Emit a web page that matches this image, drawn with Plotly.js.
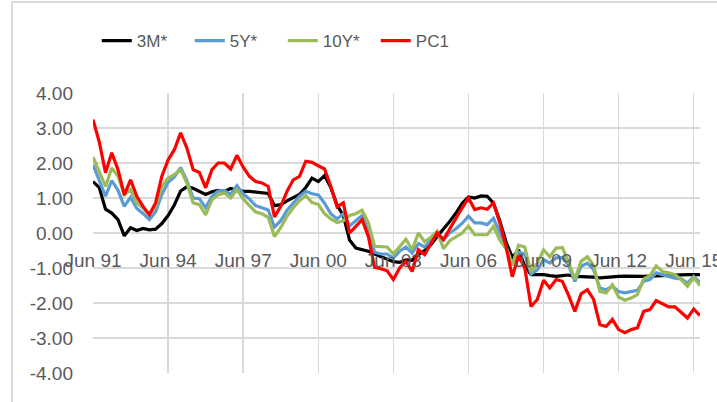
<!DOCTYPE html>
<html><head><meta charset="utf-8">
<script src="https://cdn.plot.ly/plotly-3.0.1.min.js"></script>
<style>
html,body{margin:0;padding:0;background:#fff;overflow:hidden}
#chart{width:717px;height:402px;position:absolute;left:0;top:0}
#frame{position:absolute;left:11px;top:1px;width:720px;height:420px;border-left:2px solid #d9d9d9;border-top:2px solid #d9d9d9;pointer-events:none}
</style></head><body>
<div id="chart"></div><div id="frame"></div>
<script>
const categories = [
"Jun 91","Sep 91","Dec 91",
"Mar 92","Jun 92","Sep 92","Dec 92","Mar 93","Jun 93","Sep 93","Dec 93",
"Mar 94","Jun 94","Sep 94","Dec 94","Mar 95","Jun 95","Sep 95","Dec 95",
"Mar 96","Jun 96","Sep 96","Dec 96","Mar 97","Jun 97","Sep 97","Dec 97",
"Mar 98","Jun 98","Sep 98","Dec 98","Mar 99","Jun 99","Sep 99","Dec 99",
"Mar 00","Jun 00","Sep 00","Dec 00","Mar 01","Jun 01","Sep 01","Dec 01",
"Mar 02","Jun 02","Sep 02","Dec 02","Mar 03","Jun 03","Sep 03","Dec 03",
"Mar 04","Jun 04","Sep 04","Dec 04","Mar 05","Jun 05","Sep 05","Dec 05",
"Mar 06","Jun 06","Sep 06","Dec 06","Mar 07","Jun 07","Sep 07","Dec 07",
"Mar 08","Jun 08","Sep 08","Dec 08","Mar 09","Jun 09","Sep 09","Dec 09",
"Mar 10","Jun 10","Sep 10","Dec 10","Mar 11","Jun 11","Sep 11","Dec 11",
"Mar 12","Jun 12","Sep 12","Dec 12","Mar 13","Jun 13","Sep 13","Dec 13",
"Mar 14","Jun 14","Sep 14","Dec 14","Mar 15","Jun 15","Sep 15"];

const tickLabels = ["Jun 91","Jun 94","Jun 97","Jun 00","Jun 03","Jun 06","Jun 09","Jun 12","Jun 15"];
const yTickVals = [-4, -3, -2, -1, 0, 1, 2, 3, 4];
const yTickText = ["-4.00","-3.00","-2.00","-1.00","0.00","1.00","2.00","3.00","4.00"];

const seriesNames = ["3M*","5Y*","10Y*","PC1"];

const m3 = [1.47,1.30,0.68,0.57,0.38,-0.08,0.15,0.07,0.13,0.09,
0.11,0.27,0.50,0.80,1.20,1.32,1.28,1.18,1.10,1.18,
1.22,1.19,1.27,1.22,1.19,1.19,1.17,1.14,1.13,0.78,
0.81,0.92,1.00,1.10,1.30,1.57,1.47,1.64,1.30,0.80,
0.50,-0.20,-0.43,-0.48,-0.52,-0.60,-0.67,-0.75,-0.82,-0.84,
-0.77,-0.78,-0.62,-0.50,-0.33,-0.10,0.10,0.33,0.57,0.85,
1.03,1.00,1.06,1.05,0.85,0.35,-0.25,-0.70,-0.48,-0.95,
-1.19,-1.19,-1.19,-1.22,-1.24,-1.22,-1.20,-1.24,-1.24,-1.25,
-1.26,-1.28,-1.26,-1.24,-1.24,-1.23,-1.24,-1.25,-1.24,-1.23,
-1.22,-1.21,-1.20,-1.20,-1.19,-1.19,-1.19,-1.19];

const y5 = [1.95,1.50,1.05,1.50,1.22,0.76,1.02,0.70,0.56,0.38,
0.60,1.10,1.45,1.60,1.87,1.50,1.00,0.98,0.72,1.05,
1.20,1.22,1.10,1.35,1.12,0.97,0.78,0.72,0.66,0.17,
0.35,0.65,0.85,1.05,1.19,1.12,1.09,0.85,0.55,0.40,
0.55,0.20,0.35,0.50,0.05,-0.55,-0.60,-0.60,-0.72,-0.52,
-0.40,-0.57,-0.30,-0.40,-0.20,0.02,-0.20,0.00,0.12,0.28,
0.48,0.29,0.29,0.24,0.42,0.02,-0.38,-0.88,-0.55,-0.60,
-1.17,-1.05,-0.76,-0.86,-0.71,-0.70,-0.92,-1.38,-0.95,-0.86,
-1.05,-1.57,-1.62,-1.52,-1.67,-1.71,-1.67,-1.64,-1.38,-1.33,
-1.14,-1.19,-1.26,-1.29,-1.31,-1.43,-1.24,-1.41];

const y10 = [2.17,1.75,1.33,1.86,1.62,1.09,1.24,0.86,0.71,0.52,
0.76,1.33,1.57,1.67,1.81,1.43,0.86,0.81,0.52,0.95,
1.09,1.14,1.00,1.24,0.98,0.78,0.60,0.55,0.45,-0.10,
0.15,0.48,0.72,0.92,1.07,0.87,0.82,0.55,0.40,0.30,
0.35,0.50,0.55,0.65,0.30,-0.38,-0.38,-0.40,-0.60,-0.38,
-0.18,-0.48,0.00,-0.25,-0.12,0.05,-0.45,-0.22,-0.12,0.00,
0.20,-0.05,-0.05,-0.05,0.19,-0.20,-0.45,-0.92,-0.35,-0.40,
-1.12,-0.86,-0.48,-0.68,-0.43,-0.42,-0.83,-1.33,-0.81,-0.68,
-0.92,-1.67,-1.71,-1.48,-1.83,-1.92,-1.86,-1.76,-1.31,-1.22,
-0.94,-1.10,-1.14,-1.19,-1.33,-1.52,-1.27,-1.50];

const pc1 = [3.24,2.60,1.72,2.29,1.81,1.09,1.52,1.05,0.76,0.52,
0.86,1.62,2.09,2.38,2.86,2.43,1.81,1.73,1.29,1.81,
2.00,2.00,1.83,2.22,1.88,1.62,1.47,1.43,1.33,0.46,
0.76,1.19,1.52,1.62,2.05,2.02,1.92,1.83,1.33,0.75,
0.86,0.00,0.19,0.38,-0.10,-0.98,-1.02,-1.08,-1.33,-1.00,
-0.81,-1.10,-0.48,-0.62,-0.30,0.00,-0.19,0.12,0.42,0.72,
1.00,0.67,0.72,0.68,0.86,0.30,-0.38,-1.25,-0.65,-1.00,
-2.10,-1.90,-1.35,-1.57,-1.33,-1.38,-1.78,-2.24,-1.74,-1.62,
-1.90,-2.62,-2.67,-2.47,-2.76,-2.85,-2.76,-2.71,-2.24,-2.19,
-1.93,-2.02,-2.11,-2.11,-2.27,-2.43,-2.17,-2.36];

const colors = ["#000000","#5B9BD5","#9BBB59","#FF0000"];
const values = [m3, y5, y10, pc1];

const traces = values.map((v, k) => ({
  type: 'scatter', mode: 'lines', x: categories, y: v, name: seriesNames[k],
  line: {color: colors[k], width: 3.2}
}));

const FONT = '"Liberation Sans", Arial, sans-serif';
const layout = {
  width: 717, height: 402,
  margin: {l: 93, r: 17, t: 93, b: 29},
  paper_bgcolor: '#ffffff', plot_bgcolor: '#ffffff',
  font: {family: FONT, color: '#595959', size: 19},
  showlegend: true,
  legend: {orientation: 'h', xref: 'container', yref: 'container',
           x: 0.135, xanchor: 'left', y: 0.898, yanchor: 'middle',
           entrywidth: 48, entrywidthmode: 'pixels',
           font: {family: FONT, size: 17, color: '#595959'}, traceorder: 'normal',
           bgcolor: 'rgba(0,0,0,0)'},
  xaxis: {type: 'category', range: [0, 97], tickmode: 'array', tickvals: tickLabels, ticktext: tickLabels,
          showgrid: true, gridcolor: '#d9d9d9', gridwidth: 1.5, showline: false, zeroline: false,
          ticks: '', anchor: 'free', position: 0.5, tickangle: 0, ticklabelstandoff: 14,
          tickfont: {family: FONT, size: 19, color: '#595959'}},
  yaxis: {range: [-4, 4], tickmode: 'array', tickvals: yTickVals, ticktext: yTickText,
          showgrid: true, gridcolor: '#d9d9d9', gridwidth: 1.5,
          zeroline: false, showline: false, ticks: '', ticklabelstandoff: 19,
          tickfont: {family: FONT, size: 19, color: '#595959'}}
};

Plotly.newPlot('chart', traces, layout, {staticPlot: true, displayModeBar: false});
</script>
</body></html>
